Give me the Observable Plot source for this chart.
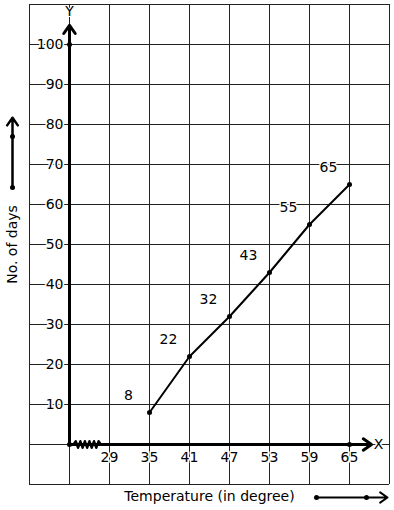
<!DOCTYPE html>
<html>
<head>
<meta charset="utf-8">
<script src="https://cdn.jsdelivr.net/npm/d3@7"></script>
<script src="https://cdn.jsdelivr.net/npm/@observablehq/plot@0.6"></script>
<style>
  html, body { margin: 0; padding: 0; background: white; }
</style>
</head>
<body>
<div id="chart"></div>
<script>
// Data
const temperatures = [35, 41, 47, 53, 59, 65];
const days = [8, 22, 32, 43, 55, 65];
const xTickLabels = [29, 35, 41, 47, 53, 59, 65];
const yTickLabels = [10, 20, 30, 40, 50, 60, 70, 80, 90, 100];
const gridX = [17, 23, 29, 35, 41, 47, 53, 59, 65, 71];
const gridY = [-10, 0, 10, 20, 30, 40, 50, 60, 70, 80, 90, 100, 110];
const xOrigin = 23; // broken-axis origin position
const xTitle = "Temperature (in degree)";
const yTitle = "No. of days";

const points = temperatures.map((t, i) => ({t, d: days[i]}));

// zigzag for axis break
const zig = [];
const zx0 = 23.6, zx1 = 27.7, nz = 12;
for (let i = 0; i <= nz; i++) {
  zig.push({t: zx0 + (zx1 - zx0) * i / nz, d: i === 0 || i === nz ? 0 : (i % 2 ? 0.8 : -0.8)});
}

const font = "DejaVu Sans";
const fs = 14;
const chart = Plot.plot({
  width: 394,
  height: 510,
  margin: 0,
  x: {type: "linear", domain: [17, 71], range: [29, 389], axis: null},
  y: {type: "linear", domain: [-10, 110], range: [484, 4], axis: null},
  style: {fontFamily: font, fontSize: fs + "px", background: "white", color: "black", overflow: "visible"},
  marks: [
    Plot.ruleX(gridX, {x: d => d, y1: -10, y2: 110, stroke: "#222", strokeWidth: 1, strokeOpacity: 1}),
    Plot.ruleY(gridY, {y: d => d, x1: 17, x2: 71, stroke: "#222", strokeWidth: 1, strokeOpacity: 1}),
    // axes
    Plot.arrow([0], {x1: xOrigin, x2: xOrigin, y1: 0, y2: 104.8, stroke: "black", strokeWidth: 3, headLength: 5, headAngle: 70}),
    Plot.arrow([0], {x1: xOrigin, x2: 68.3, y1: 0, y2: 0, stroke: "black", strokeWidth: 3, headLength: 5, headAngle: 70}),
    Plot.line(zig, {x: "t", y: "d", stroke: "black", strokeWidth: 2.5}),
    // tick labels
    Plot.text(yTickLabels, {x: xOrigin, y: d => d, text: d => String(d), textAnchor: "end", dx: -6, fill: "black", stroke: "white", strokeWidth: 3, fontSize: fs}),
    Plot.text(xTickLabels, {x: d => d, y: 0, text: d => String(d), dy: 13, fill: "black", stroke: "white", strokeWidth: 3, fontSize: fs}),
    Plot.text(["X"], {x: 69.35, y: 0, text: d => d, fill: "black", stroke: "white", strokeWidth: 3, fontSize: fs}),
    Plot.text(["Y"], {x: xOrigin, y: 108.2, text: d => d, fill: "black", stroke: "white", strokeWidth: 2, fontSize: fs}),
    Plot.dot([[xOrigin, 100], [xOrigin, 0], [65, 0]], {x: d => d[0], y: d => d[1], r: 2.5, fill: "black"}),
    // data
    Plot.line(points, {x: "t", y: "d", stroke: "black", strokeWidth: 2}),
    Plot.dot(points, {x: "t", y: "d", r: 2.5, fill: "black"}),
    Plot.text(points, {x: "t", y: "d", text: d => String(d.d), dx: -21, dy: -17, fill: "black", stroke: "white", strokeWidth: 3, fontSize: fs}),
    // titles and decorative arrows
    Plot.text([xTitle], {x: 44, y: -13, text: d => d, fill: "black", fontSize: fs}),
    Plot.text([yTitle], {x: 14.5, y: 50, text: d => d, rotate: -90, fill: "black", fontSize: fs}),
    Plot.arrow([0], {x1: 14.45, x2: 14.45, y1: 64.25, y2: 81.7, stroke: "black", strokeWidth: 2.5, headLength: 5.6, headAngle: 70}),
    Plot.dot([64.25, 77], {x: 14.45, y: d => d, r: 2.5, fill: "black"}),
    Plot.arrow([0], {x1: 60.05, x2: 70.7, y1: -13.25, y2: -13.25, stroke: "black", strokeWidth: 2, headLength: 6.75, headAngle: 70}),
    Plot.dot([60.05, 67.55], {x: d => d, y: -13.25, r: 2.5, fill: "black"})
  ]
});
document.getElementById("chart").appendChild(chart);
</script>
</body>
</html>
